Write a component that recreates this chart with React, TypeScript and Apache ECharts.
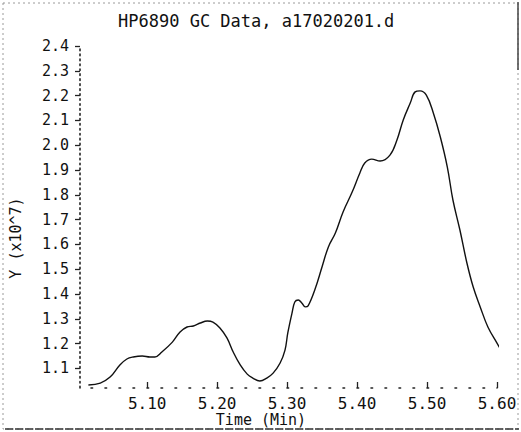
import React, { useEffect, useRef } from 'react';
import * as echarts from 'echarts';

const timeMin = [5.016, 5.033, 5.047, 5.061, 5.071, 5.080, 5.093, 5.104, 5.111, 5.121, 5.136, 5.147, 5.157, 5.166, 5.176, 5.186, 5.194, 5.204, 5.214, 5.223, 5.233, 5.243, 5.251, 5.261, 5.271, 5.280, 5.290, 5.297, 5.301, 5.307, 5.311, 5.316, 5.321, 5.326, 5.330, 5.340, 5.350, 5.359, 5.369, 5.380, 5.393, 5.404, 5.411, 5.421, 5.433, 5.447, 5.457, 5.466, 5.476, 5.483, 5.490, 5.499, 5.509, 5.519, 5.529, 5.537, 5.547, 5.557, 5.566, 5.576, 5.587, 5.600, 5.610];
const signal = [1.033, 1.041, 1.065, 1.114, 1.138, 1.146, 1.150, 1.146, 1.146, 1.166, 1.206, 1.247, 1.267, 1.271, 1.283, 1.291, 1.287, 1.263, 1.223, 1.166, 1.114, 1.077, 1.061, 1.049, 1.061, 1.081, 1.122, 1.174, 1.243, 1.323, 1.368, 1.376, 1.364, 1.348, 1.352, 1.42, 1.51, 1.59, 1.646, 1.731, 1.811, 1.888, 1.928, 1.944, 1.936, 1.960, 2.021, 2.102, 2.170, 2.215, 2.219, 2.202, 2.130, 2.033, 1.912, 1.779, 1.658, 1.525, 1.428, 1.348, 1.267, 1.202, 1.154];
const xTicks = [5.1, 5.2, 5.3, 5.4, 5.5, 5.6];
const yTicks = [1.1, 1.2, 1.3, 1.4, 1.5, 1.6, 1.7, 1.8, 1.9, 2.0, 2.1, 2.2, 2.3, 2.4];
const titleText = 'HP6890 GC Data, a17020201.d';
const xName = 'Time (Min)';
const yName = 'Y (x10^7)';

const FONT = 'DejaVu Sans Mono';

export default function App() {
  const ref = useRef<HTMLDivElement>(null);
  useEffect(() => {
    const chart = echarts.init(ref.current!, null, { renderer: 'svg' });
    chart.setOption({
      animation: false,
      backgroundColor: '#ffffff',
      title: {
        text: titleText,
        left: 113,
        top: 7,
        textStyle: { fontFamily: FONT, fontSize: 17, fontWeight: 'normal', color: '#111' },
      },
      grid: { left: 80, right: 24, top: 46, bottom: 44, containLabel: false },
      xAxis: {
        type: 'value',
        min: 5.004,
        max: 5.6,
        axisLine: { show: true, lineStyle: { color: '#222', width: 1.6, type: [1.6, 12.4], dashOffset: 3 } },
        axisTick: { show: true, inside: true, length: 6, customValues: xTicks, lineStyle: { color: '#222', width: 1.3 } },
        axisLabel: {
          customValues: xTicks,
          formatter: (v: number) => v.toFixed(2),
          fontFamily: FONT,
          fontSize: 16,
          lineHeight: 16,
          color: '#111',
          margin: 7,
        },
        splitLine: { show: false },
      },
      yAxis: {
        type: 'value',
        min: 1.021,
        max: 2.4,
        axisLine: { show: true, lineStyle: { color: '#222', width: 1.6, type: [1.6, 3.36] } },
        axisTick: { show: true, inside: false, length: 5, customValues: yTicks, lineStyle: { color: '#222', width: 1.3 } },
        axisLabel: {
          customValues: yTicks,
          formatter: (v: number) => v.toFixed(1),
          fontFamily: FONT,
          fontSize: 15,
          color: '#111',
          margin: 11,
        },
        splitLine: { show: false },
      },
      series: [
        {
          type: 'line',
          data: timeMin.map((t, i) => [t, signal[i]]),
          symbol: 'none',
          smooth: 0.4,
          clip: false,
          lineStyle: { color: '#111', width: 1.4 },
        },
      ],
      graphic: [
        {
          type: 'text',
          x: 261,
          y: 420,
          style: { text: xName, font: `15px "${FONT}"`, fill: '#111', align: 'center', verticalAlign: 'middle' },
        },
        {
          type: 'text',
          x: 16,
          y: 238,
          rotation: Math.PI / 2,
          style: { text: yName, font: `15px "${FONT}"`, fill: '#111', align: 'center', verticalAlign: 'middle' },
        },
        {
          type: 'rect',
          shape: { x: 3, y: 3, width: 515, height: 426 },
          style: { fill: 'none', stroke: '#9a9a9a', lineWidth: 1, lineDash: [2, 3] },
        },
        {
          type: 'line',
          shape: { x1: 5, y1: 429, x2: 519, y2: 429 },
          style: { stroke: '#333', lineWidth: 1.5, lineDash: [8, 2] },
        },
        {
          type: 'line',
          shape: { x1: 518, y1: 2, x2: 518, y2: 70 },
          style: { stroke: '#444', lineWidth: 1.5 },
        },
      ],
    });
    return () => chart.dispose();
  }, []);
  return <div ref={ref} style={{ position: 'absolute', left: 0, top: 0, width: 521, height: 432 }} />;
}
